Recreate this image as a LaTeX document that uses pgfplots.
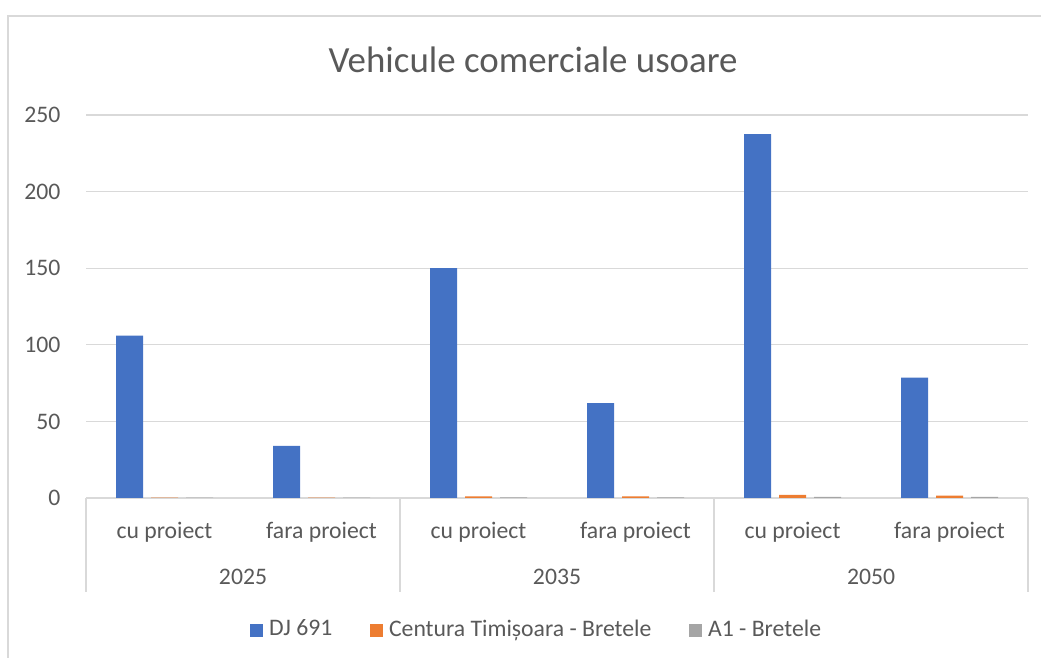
\documentclass[border=0pt]{standalone}
\usepackage{fontspec}
\setmainfont{Carlito}
\usepackage{pgfplots}
\pgfplotsset{compat=1.18}
\definecolor{sblue}{HTML}{4472C4}
\definecolor{sorange}{HTML}{ED7D31}
\definecolor{sgray}{HTML}{A5A5A5}
\definecolor{txt}{HTML}{595959}
\definecolor{gridc}{HTML}{D9D9D9}

\begin{document}
\begin{tikzpicture}[x=1pt,y=1pt]
\useasboundingbox (0,0) rectangle (347,219.33);
\draw[gridc, line width=0.5pt] (2.67,0) -- (2.67,214) -- (347,214);
\node[font=\fontsize{12.3}{14}\selectfont, text=txt] at (177.7,199.3) {Vehicule comerciale usoare};
\begin{axis}[
  at={(28.67pt,53.33pt)}, anchor=south west,
  scale only axis, width=314pt, height=127.67pt,
  font=\fontsize{7.9}{9.5}\selectfont,
  clip mode=individual,
  ybar=2.67pt, bar width=9pt,
  xmin=-0.5, xmax=5.5, ymin=0, ymax=250,
  ytick={0,50,...,250},
  xtick={0,...,5},
  xticklabels={cu proiect, fara proiect, cu proiect, fara proiect, cu proiect, fara proiect},
  major tick length=0pt,
  xtick pos=bottom,
  extra x ticks={-0.5,1.5,3.5,5.5},
  extra x tick labels={},
  extra x tick style={major tick length=31.3pt, tick align=outside, grid=none,
    tick style={draw=gridc, line width=0.6pt}},
  axis x line*=bottom,
  axis y line*=left,
  x axis line style={draw=gridc, line width=0.6pt},
  y axis line style={draw=none},
  ymajorgrids, grid style={gridc, line width=0.4pt},
  tick label style={text=txt},
  xticklabel style={yshift=-4.6pt},
  yticklabel style={xshift=-5pt},
  /pgf/number format/assume math mode=true,
  legend columns=3,
  legend style={at={(0.4803,-0.345)}, anchor=center, draw=none, fill=none,
    font=\fontsize{7.9}{9.5}\selectfont, text=txt,
    /tikz/every even column/.append style={column sep=10.5pt}},
  legend image code/.code={\fill[#1] (0pt,-2.2pt) rectangle (4.4pt,2.2pt);},
]
\addplot[fill=sblue, draw=none] coordinates {(0,106) (1,34) (2,150) (3,62) (4,237.5) (5,78.5)};
\addplot[fill=sorange, draw=none] coordinates {(0,0.3) (1,0.3) (2,1) (3,1) (4,2) (5,1.6)};
\addplot[fill=sgray, draw=none] coordinates {(0,0.2) (1,0.2) (2,0.4) (3,0.4) (4,0.8) (5,0.8)};
\legend{DJ 691, Centura Timișoara - Bretele, A1 - Bretele}
\node[text=txt] at (axis cs:0.5,0) [yshift=-26.3pt] {2025};
\node[text=txt] at (axis cs:2.5,0) [yshift=-26.3pt] {2035};
\node[text=txt] at (axis cs:4.5,0) [yshift=-26.3pt] {2050};
\end{axis}
\end{tikzpicture}
\end{document}
